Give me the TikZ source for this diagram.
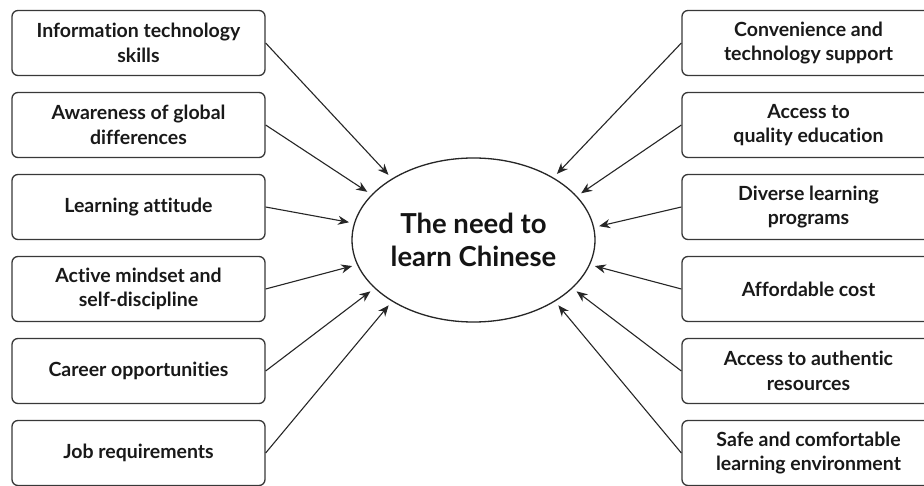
\documentclass[tikz,border=0pt]{standalone}
\usepackage{fontspec}
\setmainfont{Lato}[Ligatures=NoCommon]
\usetikzlibrary{arrows.meta,shapes.geometric}
\begin{document}
\begin{tikzpicture}[x=1pt,y=-1pt,
  box/.style={draw=black!78, line width=1.3pt, rounded corners=6pt,
    minimum width=253pt, minimum height=65pt, inner sep=0pt, align=center,
    font=\fontsize{19.5}{24.5}\selectfont\bfseries, text=black!90},
  arr/.style={-{Stealth[length=11pt,width=9pt]}, line width=1.1pt,
    draw=black!85, shorten >=5pt}]
\useasboundingbox (0,0) rectangle (924,486);
\fill[white] (0,0) rectangle (924,486);
\node[ellipse, draw=black!85, line width=1.3pt, minimum width=243pt,
  minimum height=164pt, inner sep=0pt, align=center,
  font=\fontsize{27.5}{33}\selectfont\bfseries, text=black!92] (c) at (473.5,240)
  {The need to\\learn Chinese};
% left boxes
\node[box] (l1) at (138.5,43)  {Information technology\\skills};
\node[box] (l2) at (138.5,125) {Awareness of global\\differences};
\node[box] (l3) at (138.5,207) {Learning attitude};
\node[box] (l4) at (138.5,289) {Active mindset and\\self-discipline};
\node[box] (l5) at (138.5,371) {Career opportunities};
\node[box] (l6) at (138.5,453) {Job requirements};
% right boxes
\node[box] (r1) at (808.5,43)  {Convenience and\\technology support};
\node[box] (r2) at (808.5,125) {Access to\\quality education};
\node[box] (r3) at (808.5,207) {Diverse learning\\programs};
\node[box] (r4) at (808.5,289) {Affordable cost};
\node[box] (r5) at (808.5,371) {Access to authentic\\resources};
\node[box] (r6) at (808.5,453) {Safe and comfortable\\learning environment};
% arrows
\draw[arr] (l1.east) -- (c.143);
\draw[arr] (l2.east) -- (c.156);
\draw[arr] (l3.east) -- (c.172);
\draw[arr] (l4.east) -- (c.192);
\draw[arr] (l5.east) -- (c.206);
\draw[arr] (l6.east) -- (c.217);
\draw[arr] (r1.west) -- (c.38);
\draw[arr] (r2.west) -- (c.23);
\draw[arr] (r3.west) -- (c.6);
\draw[arr] (r4.west) -- (c.-12);
\draw[arr] (r5.west) -- (c.-26);
\draw[arr] (r6.west) -- (c.-37);
\end{tikzpicture}
\end{document}
